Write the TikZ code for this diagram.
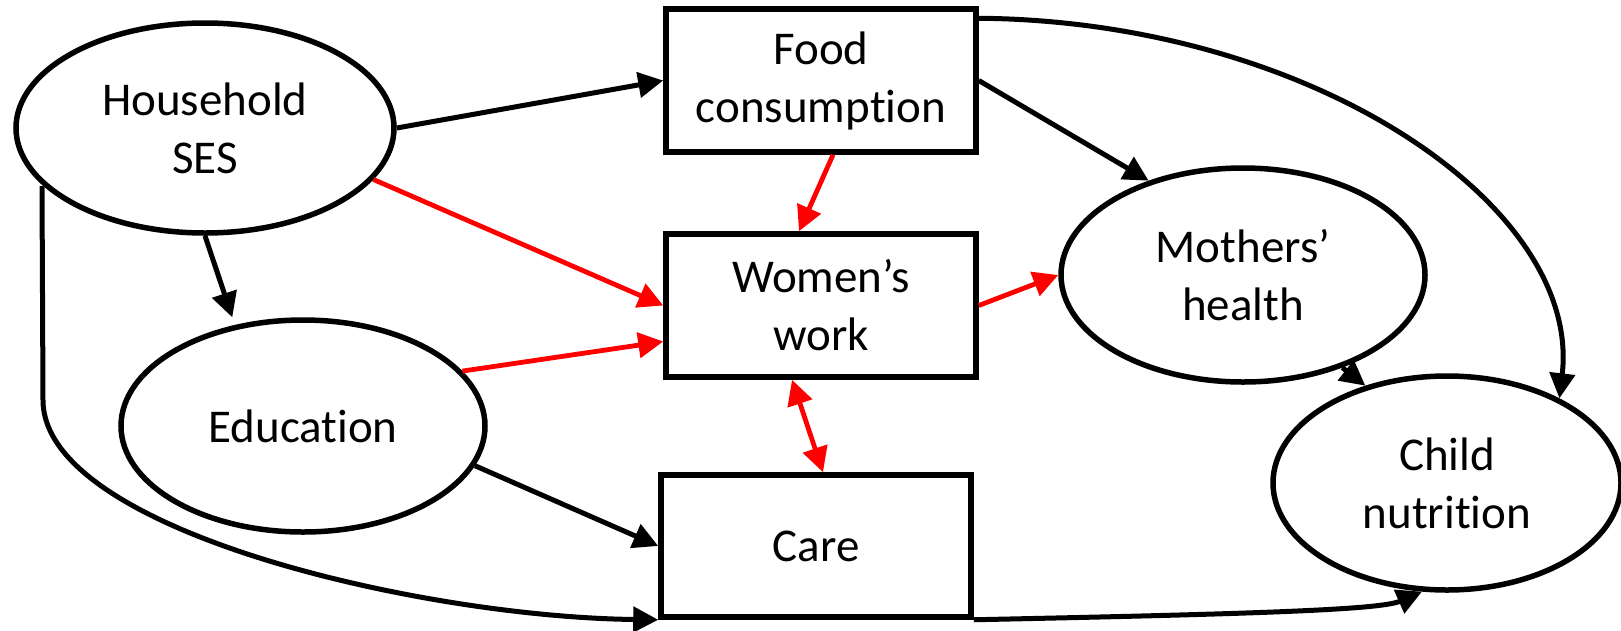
\documentclass[tikz,border=0pt]{standalone}
\usepackage{fontspec}
\setmainfont{Carlito}[Ligatures={NoCommon,NoContextual}]
\usetikzlibrary{arrows.meta,shapes.geometric,calc}

\tikzset{
  label text/.style={font=\fontsize{47pt}{58pt}\selectfont, align=center, inner sep=0pt},
  oval/.style={label text, draw, ellipse, line width=5.5pt},
  box/.style={label text, draw, rectangle, line width=5.5pt},
  link/.style={line width=5pt, -{Triangle[length=25pt,width=25pt]}},
  redlink/.style={link, draw=red, fill=red, line width=4.8pt},
}

\begin{document}
\begin{tikzpicture}[x=1pt,y=-1pt]
  \useasboundingbox (0,0) rectangle (1621,630);

  % nodes
  \node[oval, minimum width=378pt, minimum height=210pt] (ses)  at (205,128)   {Household\\SES};
  \node[box,  minimum width=310pt, minimum height=143pt] (food) at (821,80.5)  {Food\\consumption};
  \node[box,  minimum width=310pt, minimum height=143pt] (work) at (821,305.5) {Women’s\\work};
  \node[box,  minimum width=310pt, minimum height=142pt] (care) at (816,546)   {Care};
  \node[oval, minimum width=364pt, minimum height=212pt] (edu)  at (303,426)   {Education};
  \node[oval, minimum width=364pt, minimum height=214pt] (mh)   at (1243,275)  {Mothers’\\health};
  \node[oval, minimum width=348pt, minimum height=214pt] (cn)   at (1447,483)  {Child\\nutrition};

  % foot of the long left-hand path from household SES to care
  \coordinate (sesfoot) at (42,186);

  % black links
  \draw[link] (ses.east) -- (food.west);
  \draw[link, shorten >=8pt] (ses.south) -- (edu.124);
  \draw[link] (sesfoot) -- (43,400) .. controls (43,530) and (420,617) .. (care.south west);
  \draw[link] (edu.-13) -- (care.west);
  \draw[link] (food.east) -- (mh.135);
  \draw[link] ($(food.north east)+(0,12)$) .. controls (1310,21) and (1582,205) .. (cn.37);
  \draw[link] (mh.-43) -- (cn.130);
  \draw[link] (care.south east) .. controls (1250,614) and (1380,610) .. (cn.-103);

  % red links
  \draw[redlink] (ses.-17) -- (work.west);
  \draw[redlink] (edu.19) -- ($(work.west)+(0,36)$);
  \draw[redlink] ($(food.south)+(12,0)$) -- ($(work.north)+(-22,0)$);
  \draw[redlink, {Triangle[length=25pt,width=25pt]}-{Triangle[length=25pt,width=25pt]}]
    ($(work.south)+(-29,0)$) -- ($(care.north)+(7,0)$);
  \draw[redlink] (work.east) -- (mh.west);
\end{tikzpicture}
\end{document}
